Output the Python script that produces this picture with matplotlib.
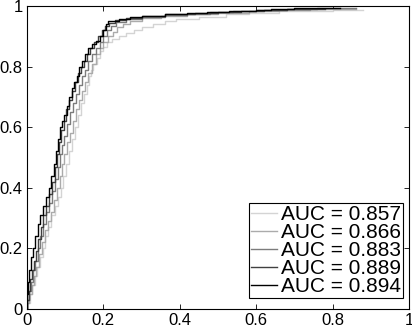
import matplotlib
matplotlib.use("Agg")
import matplotlib.pyplot as plt

# ROC curves (false positive rate, true positive rate)
fpr_857 = [0, 0.007, 0.014, 0.020, 0.027, 0.034, 0.041, 0.048, 0.056, 0.064, 0.072, 0.080, 0.088, 0.095,
           0.102, 0.110, 0.118, 0.126, 0.134, 0.142, 0.150, 0.156, 0.162, 0.168, 0.174, 0.182, 0.190, 0.200,
           0.210, 0.222, 0.240, 0.260, 0.280, 0.300, 0.330, 0.360, 0.390, 0.450, 0.520, 0.580, 0.660, 0.740,
           0.800, 0.880]
tpr_857 = [0, 0.02, 0.05, 0.08, 0.11, 0.14, 0.17, 0.20, 0.24, 0.27, 0.31, 0.34, 0.37, 0.40,
           0.44, 0.48, 0.52, 0.56, 0.60, 0.64, 0.68, 0.71, 0.74, 0.77, 0.79, 0.81, 0.83, 0.85,
           0.865, 0.88, 0.89, 0.90, 0.91, 0.92, 0.93, 0.94, 0.95, 0.958, 0.965, 0.972, 0.978, 0.982,
           0.985, 0.988]

fpr_866 = [0, 0.006, 0.012, 0.018, 0.024, 0.031, 0.038, 0.046, 0.054, 0.062, 0.070, 0.078, 0.086, 0.092,
           0.098, 0.104, 0.112, 0.120, 0.128, 0.136, 0.144, 0.152, 0.160, 0.170, 0.180, 0.190, 0.200, 0.212,
           0.224, 0.236, 0.250, 0.270, 0.300, 0.350, 0.420, 0.500, 0.580, 0.660, 0.740, 0.860]
tpr_866 = [0, 0.02, 0.05, 0.08, 0.11, 0.14, 0.18, 0.22, 0.26, 0.29, 0.32, 0.36, 0.40, 0.44,
           0.48, 0.51, 0.55, 0.58, 0.62, 0.66, 0.69, 0.72, 0.75, 0.78, 0.81, 0.84, 0.86, 0.88,
           0.90, 0.915, 0.93, 0.942, 0.952, 0.960, 0.967, 0.973, 0.978, 0.983, 0.987, 0.990]

fpr_883 = [0, 0.005, 0.010, 0.016, 0.022, 0.028, 0.035, 0.042, 0.050, 0.058, 0.066, 0.074, 0.080, 0.086,
           0.092, 0.098, 0.104, 0.112, 0.120, 0.128, 0.136, 0.144, 0.152, 0.160, 0.170, 0.180, 0.190, 0.200,
           0.210, 0.220, 0.232, 0.260, 0.300, 0.360, 0.420, 0.480, 0.540, 0.600, 0.680, 0.760, 0.860]
tpr_883 = [0, 0.03, 0.06, 0.09, 0.13, 0.16, 0.20, 0.24, 0.28, 0.32, 0.35, 0.39, 0.43, 0.47,
           0.51, 0.54, 0.57, 0.61, 0.65, 0.68, 0.71, 0.74, 0.77, 0.79, 0.82, 0.84, 0.86, 0.88,
           0.90, 0.92, 0.935, 0.948, 0.958, 0.965, 0.970, 0.975, 0.979, 0.982, 0.986, 0.990, 0.992]

fpr_889 = [0, 0.004, 0.008, 0.013, 0.018, 0.024, 0.030, 0.036, 0.042, 0.050, 0.058, 0.066, 0.072, 0.078,
           0.084, 0.090, 0.096, 0.102, 0.110, 0.118, 0.126, 0.134, 0.142, 0.150, 0.158, 0.166, 0.176, 0.186,
           0.196, 0.204, 0.214, 0.230, 0.260, 0.300, 0.360, 0.440, 0.500, 0.560, 0.620, 0.680, 0.780]
tpr_889 = [0, 0.03, 0.06, 0.10, 0.13, 0.16, 0.19, 0.23, 0.27, 0.31, 0.34, 0.38, 0.42, 0.47,
           0.51, 0.55, 0.59, 0.62, 0.66, 0.69, 0.72, 0.75, 0.78, 0.80, 0.82, 0.84, 0.86, 0.88,
           0.90, 0.92, 0.935, 0.945, 0.955, 0.962, 0.968, 0.973, 0.977, 0.981, 0.985, 0.988, 0.991]

fpr_894 = [0, 0.003, 0.006, 0.010, 0.015, 0.021, 0.028, 0.035, 0.042, 0.050, 0.057, 0.064, 0.070, 0.075,
           0.080, 0.086, 0.092, 0.098, 0.104, 0.110, 0.118, 0.124, 0.130, 0.137, 0.145, 0.152, 0.160, 0.170,
           0.180, 0.190, 0.200, 0.206, 0.212, 0.240, 0.270, 0.300, 0.360, 0.420, 0.470, 0.530, 0.600, 0.640,
           0.700, 0.820]
tpr_894 = [0, 0.05, 0.09, 0.13, 0.17, 0.20, 0.24, 0.28, 0.31, 0.34, 0.37, 0.40, 0.44, 0.48,
           0.52, 0.56, 0.60, 0.62, 0.64, 0.67, 0.70, 0.73, 0.75, 0.77, 0.80, 0.82, 0.84, 0.86,
           0.875, 0.885, 0.90, 0.92, 0.94, 0.95, 0.958, 0.963, 0.968, 0.972, 0.976, 0.980, 0.984, 0.988,
           0.990, 0.992]

curves = [(fpr_857, tpr_857), (fpr_866, tpr_866), (fpr_883, tpr_883),
          (fpr_889, tpr_889), (fpr_894, tpr_894)]
labels = ["AUC = 0.857", "AUC = 0.866", "AUC = 0.883", "AUC = 0.889", "AUC = 0.894"]
colors = ["#d4d4d4", "#ababab", "#7c7c7c", "#404040", "#000000"]

ticks = [0, 0.2, 0.4, 0.6, 0.8, 1]
tick_labels = ["0", "0.2", "0.4", "0.6", "0.8", "1"]

plt.rcParams['font.family'] = ['Liberation Sans', 'DejaVu Sans']

fig = plt.figure(figsize=(4.12, 3.28), dpi=100)
ax = fig.add_axes([27 / 412, 1 - 309 / 328, 382 / 412, 303 / 328])

for (x, y), lab, c in zip(curves, labels, colors):
    ax.plot(x, y, drawstyle='steps-pre', color=c, lw=1.0, label=lab)

ax.set_xlim(0, 1)
ax.set_ylim(0, 1)
ax.set_xticks(ticks)
ax.set_xticklabels(tick_labels)
ax.set_yticks(ticks)
ax.set_yticklabels(tick_labels)
ax.tick_params(direction='in', length=3.6, width=0.6, top=True, right=True,
               labelsize=12, pad=3)
for s in ax.spines.values():
    s.set_linewidth(0.8)

leg = ax.legend(loc='lower right', bbox_to_anchor=(0.984, 0.036), borderaxespad=0,
                fontsize=15, frameon=True, fancybox=False, framealpha=1,
                edgecolor='black', handlelength=1.25, handletextpad=0.2,
                labelspacing=-0.05, borderpad=0.1)
leg.get_frame().set_linewidth(0.8)

fig.savefig("out.png", dpi=100)
